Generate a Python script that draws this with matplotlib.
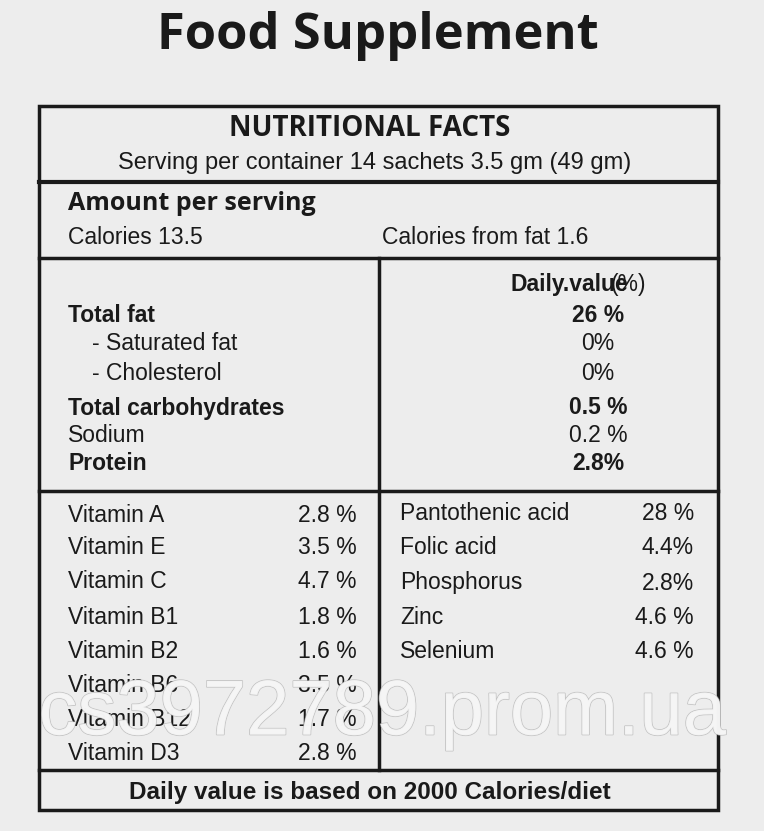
import matplotlib
matplotlib.use("Agg")
import matplotlib.pyplot as plt
import matplotlib.patheffects as pe

title = "Food Supplement"
header = "NUTRITIONAL FACTS"
serving = "Serving per container 14 sachets 3.5 gm (49 gm)"
calories = ["Calories 13.5", "Calories from fat 1.6"]
main_items = ["Total fat", "- Saturated fat", "- Cholesterol", "Total carbohydrates", "Sodium", "Protein"]
main_values = ["26 %", "0%", "0%", "0.5 %", "0.2 %", "2.8%"]
main_bold = [True, False, False, True, False, True]
vit_names = ["Vitamin A", "Vitamin E", "Vitamin C", "Vitamin B1", "Vitamin B2", "Vitamin B6", "Vitamin B12", "Vitamin D3"]
vit_values = ["2.8 %", "3.5 %", "4.7 %", "1.8 %", "1.6 %", "3.5 %", "1.7 %", "2.8 %"]
min_names = ["Pantothenic acid", "Folic acid", "Phosphorus", "Zinc", "Selenium"]
min_values = ["28 %", "4.4%", "2.8%", "4.6 %", "4.6 %"]
footer = "Daily value is based on 2000 Calories/diet"

fig = plt.figure(figsize=(7.64, 8.31), dpi=100, facecolor="#ededed")
ax = fig.add_axes([0, 0, 1, 1])
ax.set_xlim(0, 764); ax.set_ylim(831, 0); ax.axis("off")
F = "Liberation Sans"
C = "#1a1a1a"
FS = 16.5

ax.text(378, 36, title, ha="center", va="center", fontsize=36.5, fontweight="bold", family="Open Sans", color=C)
ax.add_patch(plt.Rectangle((39, 106), 679, 704, fill=False, lw=2.5, ec=C))
for y, w in [(182, 3), (258, 2.5), (491, 2.5), (770, 2.5)]:
    ax.plot([39, 718], [y, y], color=C, lw=w)
ax.plot([379, 379], [258, 770], color=C, lw=2.5)

ax.text(370, 129, header, ha="center", va="center", fontsize=20, fontweight="bold", family="Open Sans", color=C)
ax.text(375, 163, serving, ha="center", va="center", fontsize=17, family=F, color=C)
ax.text(68, 204, "Amount per serving", ha="left", va="center", fontsize=18, fontweight="bold", family="Open Sans", color=C)
ax.text(68, 237, calories[0], ha="left", va="center", fontsize=FS, family=F, color=C)
ax.text(382, 237, calories[1], ha="left", va="center", fontsize=FS, family=F, color=C)

ax.text(510, 284, "Daily.value", ha="left", va="center", fontsize=FS, fontweight="bold", family=F, color=C)
ax.text(611, 284, "(%)", ha="left", va="center", fontsize=FS, family=F, color=C)
ys = [316, 344, 373, 408, 436, 464]
for i, (n, v, b) in enumerate(zip(main_items, main_values, main_bold)):
    x = 92 if n.startswith("-") else 68
    ax.text(x, ys[i], n, ha="left", va="center", fontsize=FS, family=F, color=C, fontweight="bold" if b else "normal")
    ax.text(598, ys[i], v, ha="center", va="center", fontsize=FS, family=F, color=C, fontweight="bold" if b else "normal")

vy = [515, 548, 582, 617, 651, 686, 719, 753]
for i, (n, v) in enumerate(zip(vit_names, vit_values)):
    ax.text(68, vy[i], n, ha="left", va="center", fontsize=FS, family=F, color=C)
    ax.text(357, vy[i], v, ha="right", va="center", fontsize=FS, family=F, color=C)
my = [514, 548, 583, 618, 652]
for i, (n, v) in enumerate(zip(min_names, min_values)):
    ax.text(400, my[i], n, ha="left", va="center", fontsize=FS, family=F, color=C)
    ax.text(694, my[i], v, ha="right", va="center", fontsize=FS, family=F, color=C)

ax.text(370, 792, footer, ha="center", va="center", fontsize=17.5, fontweight="bold", family=F, color=C)

t = ax.text(382, 714, "cs3972789.prom.ua", ha="center", va="center", fontsize=56, family=F, color="#f6f6f6", alpha=0.75)
t.set_path_effects([pe.withStroke(linewidth=1.2, foreground="#b5b5b5"), pe.Normal()])

fig.savefig("out.png", dpi=100, facecolor=fig.get_facecolor())
